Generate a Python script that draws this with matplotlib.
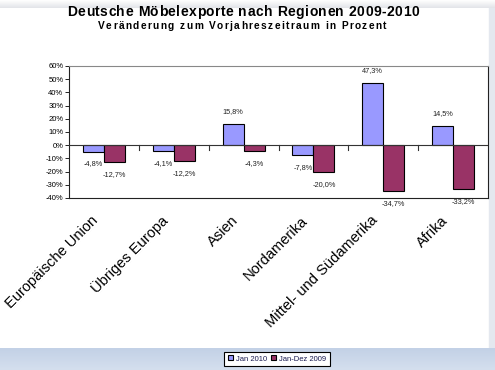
import numpy as np
import matplotlib
matplotlib.use("Agg")
import matplotlib.pyplot as plt
from matplotlib.patches import Rectangle
from matplotlib.font_manager import FontProperties

plt.rcParams['font.family'] = ['Liberation Sans', 'DejaVu Sans']

regionen = ["Europäische Union", "Übriges Europa", "Asien", "Nordamerika",
            "Mittel- und Südamerika", "Afrika"]
jan_2010 = [-4.8, -4.1, 15.8, -7.8, 47.3, 14.5]
jan_dez_2009 = [-12.7, -12.2, -4.3, -20.0, -34.7, -33.2]
yticks = [-40, -30, -20, -10, 0, 10, 20, 30, 40, 50, 60]
titel = "Deutsche Möbelexporte nach Regionen 2009-2010"
untertitel = "Veränderung zum Vorjahreszeitraum in Prozent"

fig = plt.figure(figsize=(4.95, 3.7), dpi=100)
fig.patch.set_facecolor("white")
renderer = fig.canvas.get_renderer()


def gesperrt(text, xc, y, size, extra):
    # text mit zusaetzlichem buchstabenabstand (in pixel), zentriert bei xc
    fp = FontProperties(family=['Liberation Sans', 'DejaVu Sans'], size=size, weight="bold")
    ws = []
    for ch in text:
        if ch == " ":
            w, _, _ = renderer.get_text_width_height_descent("a a", fp, ismath=False)
            w2, _, _ = renderer.get_text_width_height_descent("aa", fp, ismath=False)
            ws.append(w - w2)
        else:
            w, _, _ = renderer.get_text_width_height_descent(ch, fp, ismath=False)
            ws.append(w)
    total = sum(ws) + extra * (len(text) - 1)
    px = xc * 495 - total / 2
    for ch, w in zip(text, ws):
        fig.text(px / 495, y, ch, ha="left", va="center", fontproperties=fp)
        px += w + extra


# hintergrund: blauer streifen unten, grauer rand rechts und oben
bg = fig.add_axes([0, 0, 1, 1], zorder=-10)
bg.set_axis_off()
bg.set_xlim(0, 1)
bg.set_ylim(0, 1)
grad = np.linspace(0, 1, 50).reshape(-1, 1)
bg.imshow(grad, extent=[0, 1, 0, 22 / 370], aspect="auto",
          cmap=matplotlib.colors.LinearSegmentedColormap.from_list(
              "b", ["#c3d1e6", "#d4dfee"]), zorder=1)
bg.add_patch(Rectangle((489 / 495, 0), 6 / 495, 1, color="#e4e8ef", zorder=0))
bg.imshow(grad, extent=[0, 1, 1 - 8 / 370, 1], aspect="auto",
          cmap=matplotlib.colors.LinearSegmentedColormap.from_list(
              "g", ["#ffffff", "#e2e4e8"]), zorder=1)

ax = fig.add_axes([69 / 495, 1 - 198 / 370, 419 / 495, 132 / 370])
x = np.arange(len(regionen))
w = 0.3
b1 = ax.bar(x - w / 2, jan_2010, w, color="#9999ff", edgecolor="black",
            linewidth=0.8, label="Jan 2010", zorder=3)
b2 = ax.bar(x + w / 2, jan_dez_2009, w, color="#993366", edgecolor="black",
            linewidth=0.8, label="Jan-Dez 2009", zorder=3)

for bars, vals in [(b1, jan_2010), (b2, jan_dez_2009)]:
    for r, v in zip(bars, vals):
        s = f"{v:.1f}%".replace(".", ",")
        off = 9 if v > 0 else -9
        ax.annotate(s, (r.get_x() + r.get_width() / 2, v), xytext=(0, off),
                    textcoords="offset points", ha="center", va="center",
                    fontsize=5.3, color="#222222", annotation_clip=False)

ax.set_xlim(-0.5, len(regionen) - 0.5)
ax.set_ylim(-40, 60)
ax.set_yticks(yticks)
ax.set_yticklabels([f"{t}%" for t in yticks], fontsize=5.5)
ax.tick_params(axis="y", length=3, width=0.6, pad=1)
ax.axhline(0, color="#333333", linewidth=0.8, zorder=4)

# kleine striche zwischen den gruppen auf der nulllinie
for g in x[:-1] + 0.5:
    ax.plot([g, g], [0, -3.8], color="#333333", linewidth=0.8, zorder=4)

ax.set_xticks(x - 0.04)
ax.set_xticklabels(regionen, rotation=45, ha="right", va="top", fontsize=10.5)
ax.tick_params(axis="x", length=0, pad=11)

for sp in ["left", "bottom", "right"]:
    ax.spines[sp].set_color("#222222")
    ax.spines[sp].set_linewidth(0.8)
ax.spines["top"].set_color("#888888")
ax.spines["top"].set_linewidth(0.8)

gesperrt(titel, 243 / 495, 1 - 12 / 370, 10, 0.5)
gesperrt(untertitel, 242 / 495, 1 - 26 / 370, 7.3, 1.4)

leg = fig.legend(handles=[b1, b2], loc="center", bbox_to_anchor=(277 / 495, 1 - 359 / 370),
                 ncol=2, fontsize=5.5, frameon=True, fancybox=False,
                 edgecolor="black", framealpha=1, handlelength=0.6, handleheight=0.6,
                 handletextpad=0.4, columnspacing=0.6, borderpad=0.5)
leg.get_frame().set_linewidth(0.8)
for t in leg.get_texts():
    t.set_color("#1a1a50")

fig.savefig("out.png", dpi=100)
